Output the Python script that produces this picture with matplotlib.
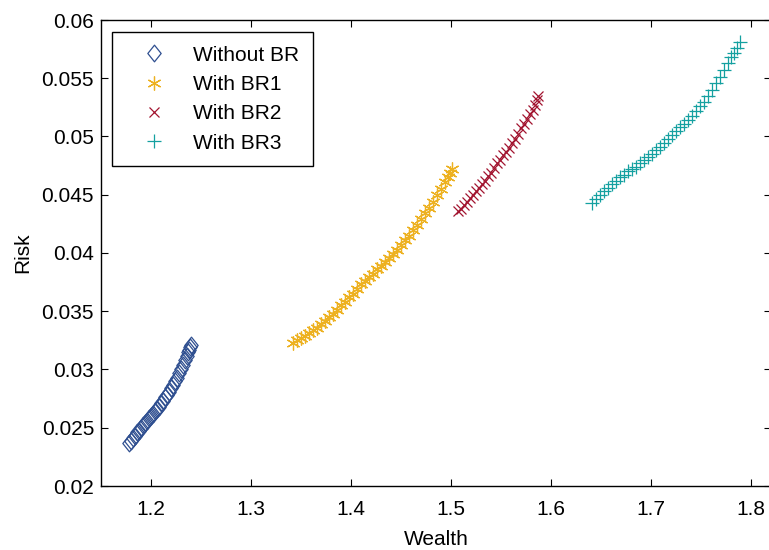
import matplotlib
matplotlib.use("Agg")
import matplotlib.pyplot as plt
from matplotlib.path import Path

plt.rcParams['font.family'] = ["Liberation Sans", "DejaVu Sans"]

# Without BR
wb_x = [1.178, 1.180, 1.182, 1.184, 1.186, 1.188, 1.190, 1.192, 1.194, 1.196, 1.198, 1.200,
        1.202, 1.204, 1.206, 1.208, 1.210, 1.212, 1.214, 1.216, 1.218, 1.220, 1.222, 1.224,
        1.226, 1.228, 1.230, 1.232, 1.234, 1.236, 1.237, 1.238, 1.239, 1.240]
wb_y = [.0237, .0239, .0241, .0243, .0246, .0247, .0250, .0252, .0254, .0256, .0258, .0260,
        .0262, .0264, .0266, .0268, .0271, .0273, .0276, .0278, .0281, .0284, .0287, .0290,
        .0293, .0297, .0300, .0304, .0308, .0312, .0315, .0317, .0319, .0321]

# With BR1
b1_x = [1.342, 1.346, 1.350, 1.354, 1.358, 1.362, 1.366, 1.370, 1.374, 1.378, 1.382, 1.386,
        1.390, 1.394, 1.398, 1.402, 1.406, 1.410, 1.414, 1.418, 1.422, 1.426, 1.430, 1.434,
        1.438, 1.442, 1.446, 1.450, 1.454, 1.458, 1.462, 1.466, 1.470, 1.474, 1.478, 1.482,
        1.486, 1.490, 1.494, 1.497, 1.499, 1.501]
b1_y = [.0323, .0325, .0327, .0329, .0331, .0334, .0336, .0339, .0342, .0345, .0348, .0351,
        .0355, .0358, .0362, .0365, .0369, .0373, .0376, .0379, .0382, .0386, .0389, .0392,
        .0396, .0399, .0403, .0407, .0411, .0415, .0420, .0424, .0429, .0434, .0439, .0444,
        .0450, .0455, .0461, .0465, .0469, .0472]

# With BR2
b2_x = [1.507, 1.510, 1.513, 1.516, 1.519, 1.522, 1.525, 1.528, 1.531, 1.534, 1.537, 1.540,
        1.543, 1.546, 1.549, 1.552, 1.555, 1.558, 1.561, 1.564, 1.567, 1.570, 1.573, 1.576,
        1.579, 1.582, 1.584, 1.586, 1.587]
b2_y = [.0436, .0438, .0441, .0444, .0447, .0450, .0453, .0456, .0459, .0462, .0466, .0469,
        .0473, .0477, .0480, .0484, .0487, .0490, .0494, .0498, .0502, .0507, .0511, .0515,
        .0519, .0523, .0527, .0531, .0535]

# With BR3
b3_x = [1.641, 1.645, 1.649, 1.653, 1.657, 1.661, 1.665, 1.669, 1.673, 1.677, 1.681, 1.685,
        1.689, 1.693, 1.697, 1.701, 1.705, 1.709, 1.713, 1.717, 1.721, 1.725, 1.729, 1.733,
        1.737, 1.741, 1.745, 1.749, 1.753, 1.757, 1.761, 1.765, 1.769, 1.773, 1.777, 1.780,
        1.783, 1.786, 1.789]
b3_y = [.0443, .0446, .0450, .0453, .0456, .0459, .0462, .0465, .0467, .0470, .0472, .0474,
        .0477, .0480, .0482, .0485, .0488, .0491, .0494, .0498, .0501, .0505, .0508, .0511,
        .0514, .0518, .0522, .0526, .0530, .0535, .0540, .0546, .0551, .0557, .0563, .0568,
        .0572, .0576, .0581]

labels = ["Without BR", "With BR1", "With BR2", "With BR3"]
x_ticks = [1.2, 1.3, 1.4, 1.5, 1.6, 1.7, 1.8]
y_ticks = [0.02, 0.025, 0.03, 0.035, 0.04, 0.045, 0.05, 0.055, 0.06]
y_ticklabels = ["0.02", "0.025", "0.03", "0.035", "0.04", "0.045", "0.05", "0.055", "0.06"]

c_blue = "#2f4f90"
c_yel = "#edb120"
c_red = "#a2142f"
c_teal = "#14a0a0"

diamond = Path([(0, 1), (0.8, 0), (0, -1), (-0.8, 0), (0, 1)],
               [Path.MOVETO, Path.LINETO, Path.LINETO, Path.LINETO, Path.CLOSEPOLY])

FS = 15

fig = plt.figure(figsize=(7.69, 5.5), dpi=100)
ax = fig.add_axes([101/769, 1-486/550, 670/769, 466/550])

ax.plot(wb_x, wb_y, linestyle="none", marker=diamond, markersize=12, mfc="none",
        mec=c_blue, mew=0.9, label=labels[0])
ax.plot(b1_x, b1_y, linestyle="none", marker=(6, 2, 0), markersize=10,
        mec=c_yel, color=c_yel, mew=0.9, label=labels[1])
ax.plot(b2_x, b2_y, linestyle="none", marker="x", markersize=7.5,
        mec=c_red, color=c_red, mew=0.9, label=labels[2])
ax.plot(b3_x, b3_y, linestyle="none", marker="+", markersize=10,
        mec=c_teal, color=c_teal, mew=0.9, label=labels[3])

ax.set_xlim(1.15, 1.82)
ax.set_ylim(0.02, 0.06)
ax.set_xticks(x_ticks)
ax.set_xticklabels([str(v) for v in x_ticks])
ax.set_yticks(y_ticks)
ax.set_yticklabels(y_ticklabels)
ax.tick_params(direction="in", top=True, right=True, length=5, width=0.8,
               labelsize=FS)
ax.tick_params(axis="x", pad=10)
ax.tick_params(axis="y", pad=5)
for s in ax.spines.values():
    s.set_linewidth(1.0)
ax.set_xlabel("Wealth", fontsize=FS, labelpad=8)
ax.set_ylabel("Risk", fontsize=FS, labelpad=6.5)

leg = ax.legend(loc="upper left", bbox_to_anchor=(11/670, 1-12/466), fontsize=FS,
                frameon=True, fancybox=False, edgecolor="black", framealpha=1,
                handlelength=2.75, handletextpad=0.5, labelspacing=0.5,
                borderpad=0.65, borderaxespad=0)
leg.get_frame().set_linewidth(1.0)

fig.savefig("out.png", dpi=100)
